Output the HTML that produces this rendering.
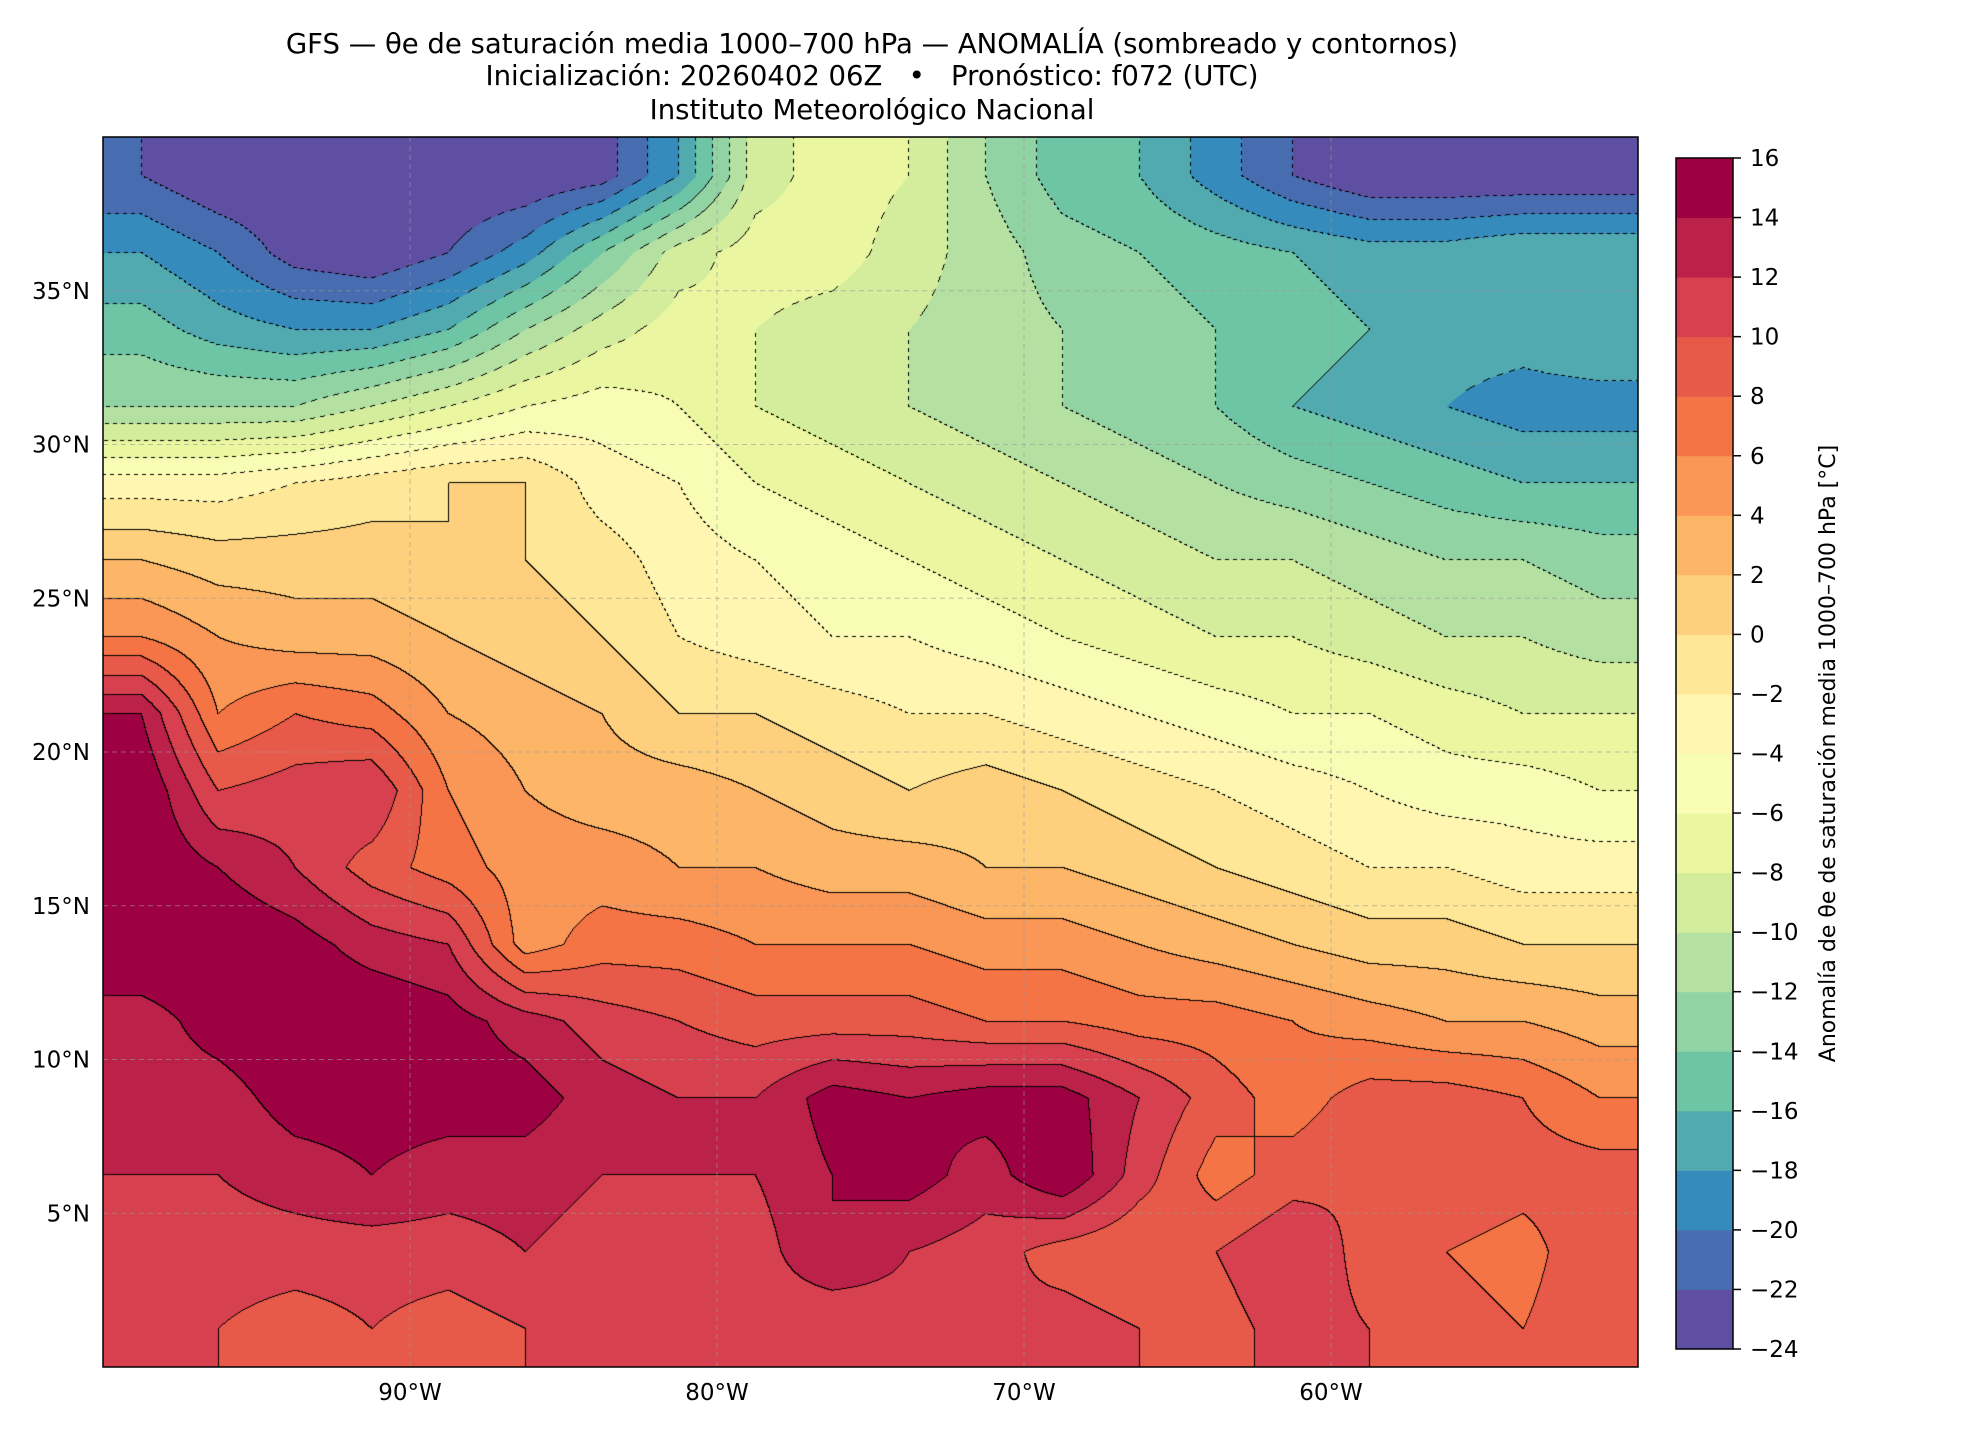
<!DOCTYPE html>
<html><head><meta charset="utf-8">
<style>
body{margin:0;background:#fff;width:1980px;height:1440px;position:relative;overflow:hidden;font-family:"Liberation Sans","DejaVu Sans",sans-serif;}
.t{position:absolute;left:0;width:1744px;text-align:center;font-size:27.5px;color:#000;font-family:"DejaVu Sans","Liberation Sans",sans-serif}
</style></head><body>
<div class="t" style="top:28px">GFS — θe de saturación media 1000–700 hPa — ANOMALÍA (sombreado y contornos)</div>
<div class="t" style="top:60px">Inicialización: 20260402 06Z &nbsp; • &nbsp; Pronóstico: f072 (UTC)</div>
<div class="t" style="top:94px">Instituto Meteorológico Nacional</div>
<canvas id="map" width="1535" height="1230" style="position:absolute;left:103px;top:137px"></canvas>
<svg id="ov" width="1980" height="1440" style="position:absolute;left:0;top:0"></svg>
<script>
const lonCenters=[-98.75,-96.25,-93.75,-91.25,-88.75,-86.25,-83.75,-81.25,-78.75,-76.25,-73.75,-71.25,-68.75,-66.25,-63.75,-61.25,-58.75,-56.25,-53.75,-51.25];
const latCenters=[38.75,36.25,33.75,31.25,28.75,26.25,23.75,21.25,18.75,16.25,13.75,11.25,8.75,6.25,3.75,1.25];
const row3875=[-22,-24,-24,-24,-24,-24,-23,-18,-9,-7,-8,-12,-15,-16,-19,-22,-24,-24,-24,-24];
const row3625=[-18,-20,-23,-24,-22,-19,-14,-9,-7,-7,-9,-11,-13,-14,-15,-16,-17,-17,-16,-16];
const row3375=[-15,-17,-18,-18,-16,-12,-9,-7,-8,-9,-10,-11,-12,-13,-14,-15,-16,-17,-17,-16];
const row3125=[-12,-12,-12,-10,-8,-6,-5,-6,-8,-9,-10,-11,-12,-13,-14,-16,-17,-18,-19,-19];
const row2875=[-3,-3,-2,-1,0,0,-3,-4,-6,-7,-8,-9,-10,-11,-12,-13,-14,-15,-16,-16];
const row2625=[2,1,1,1,0,0,-1,-3,-4,-5,-6,-7,-8,-9,-10,-10,-11,-12,-12,-13];
const row2375=[6,4,3,3,2,1,0,-2,-3,-4,-4,-5,-6,-7,-8,-8,-9,-10,-10,-11];
const row2125=[14,6,8,7,4,3,2,0,0,-1,-2,-2,-3,-4,-5,-6,-6,-7,-8,-8];
const row1875=[16,10,11,12,6,4,3,3,2,1,0,1,0,-1,-2,-3,-4,-5,-5,-6];
const row1625=[16,14,12,9,7,5,5,4,4,3,3,2,2,1,0,-1,-2,-2,-3,-3];
const row1375=[16,16,15,13,12,5,7,7,6,6,6,5,5,4,3,2,1,1,0,0];
const row1125=[13,15,16,16,15,13,11,10,9,9,9,8,8,7,7,6,5,4,4,3];
const row0875=[13,13,15,15,15,15,13,12,12,15,14,15,15,12,9,7,9,9,8,6];
const row0625=[12,12,13,14,13,13,12,12,12,14,15,13,16,11,7,9,10,10,9,9];
const row0375=[10,11,11,11,11,12,11,11,11,14,12,11,9,8,10,12,9,8,7,10];
const row0125=[11,10,9,10,9,10,11,10,11,10,11,10,11,10,9,11,10,9,8,10];
const grid=[row3875,row3625,row3375,row3125,row2875,row2625,row2375,row2125,row1875,row1625,row1375,row1125,row0875,row0625,row0375,row0125];
const levels=[-24,-22,-20,-18,-16,-14,-12,-10,-8,-6,-4,-2,0,2,4,6,8,10,12,14,16];
const cbTicks=["16","14","12","10","8","6","4","2","0","−2","−4","−6","−8","−10","−12","−14","−16","−18","−20","−22","−24"];
const latTicks=[35,30,25,20,15,10,5];
const lonTicks=[-90,-80,-70,-60];

const spec=['#9e0142','#d53e4f','#f46d43','#fdae61','#fee08b','#ffffbf','#e6f598','#abdda4','#66c2a5','#3288bd','#5e4fa2'];
function hex(h){return [parseInt(h.slice(1,3),16),parseInt(h.slice(3,5),16),parseInt(h.slice(5,7),16)];}
function specR(t){const s=(1-t)*10;const i=Math.min(9,Math.floor(s));const f=s-i;const a=hex(spec[i]),b=hex(spec[i+1]);return a.map((v,k)=>Math.round(v+(b[k]-v)*f));}
const nb=levels.length-1;
const bandCols=[];for(let k=0;k<nb;k++)bandCols.push(specR(k/(nb-1)));

const W=1535,H=1230,X0=103,Y0=137;
const xOf=lon=>X0+(lon+100)/50*W, yOf=lat=>Y0+(40-lat)/40*H;
function val(lon,lat){
  let fi=(lon-lonCenters[0])/2.5, fj=(latCenters[0]-lat)/2.5;
  fi=Math.max(0,Math.min(lonCenters.length-1.0001,fi));fj=Math.max(0,Math.min(latCenters.length-1.0001,fj));
  const i=Math.floor(fi),j=Math.floor(fj),a=fi-i,b=fj-j;
  return grid[j][i]*(1-a)*(1-b)+grid[j][i+1]*a*(1-b)+grid[j+1][i]*(1-a)*b+grid[j+1][i+1]*a*b;
}
const cv=document.getElementById('map'),ctx=cv.getContext('2d');
const img=ctx.createImageData(W,H);const band=new Int8Array(W*H);
for(let y=0;y<H;y++){const lat=40-y/H*40;for(let x=0;x<W;x++){const lon=-100+x/W*50;const v=val(lon,lat);let k=Math.floor((v-levels[0])/2);k=Math.max(0,Math.min(nb-1,k));band[y*W+x]=k;}}
for(let y=0;y<H;y++)for(let x=0;x<W;x++){const p=y*W+x;let c=bandCols[band[p]];
  const k=band[p];let edge=false,lv=0;
  if(x<W-1&&band[p+1]!==k){edge=true;lv=Math.max(k,band[p+1]);}
  if(y<H-1&&band[p+W]!==k){edge=true;lv=Math.max(k,band[p+W]);}
  if(edge){const neg=levels[lv]<0; if(!neg||((x+y)%8)<4)c=[0,0,0];}
  img.data[p*4]=c[0];img.data[p*4+1]=c[1];img.data[p*4+2]=c[2];img.data[p*4+3]=255;}
ctx.putImageData(img,0,0);

const NS='http://www.w3.org/2000/svg',ov=document.getElementById('ov');
function el(t,a,txt){const e=document.createElementNS(NS,t);for(const k in a)e.setAttribute(k,a[k]);if(txt!==undefined)e.textContent=txt;ov.appendChild(e);return e;}
latTicks.forEach(l=>{const y=yOf(l);
  let g=el('line',{x1:X0,x2:X0+W,y1:y,y2:y,stroke:'#999',"stroke-width":1,"stroke-dasharray":"5,4",opacity:0.6});
  
  let t=el('text',{x:X0-13,y:y+8,"text-anchor":"end","font-size":23,"font-family":"DejaVu Sans, Liberation Sans, sans-serif"},l+'°N');
  });
lonTicks.forEach(l=>{const x=xOf(l);
  let g=el('line',{x1:x,x2:x,y1:Y0,y2:Y0+H,stroke:'#999',"stroke-width":1,"stroke-dasharray":"5,4",opacity:0.6});
  
  let t=el('text',{x:x,y:Y0+H+33,"text-anchor":"middle","font-size":23,"font-family":"DejaVu Sans, Liberation Sans, sans-serif"},(-l)+'°W');
  });
let fr=el('rect',{x:X0,y:Y0,width:W,height:H,fill:'none',stroke:'#000',"stroke-width":1.5});

// colorbar
const CX=1676,CW=57,CT=158,CB=1349,bh=(CB-CT)/nb;
for(let k=0;k<nb;k++){const c=bandCols[k];
  let r=el('rect',{x:CX,y:CB-(k+1)*bh,width:CW,height:bh+0.5,fill:`rgb(${c[0]},${c[1]},${c[2]})`});
  }
let cf=el('rect',{x:CX,y:CT,width:CW,height:CB-CT,fill:'none',stroke:'#000',"stroke-width":1.5});

cbTicks.forEach((s,i)=>{const y=CT+i*bh;
  el('line',{x1:CX+CW,x2:CX+CW+8,y1:y,y2:y,stroke:'#000',"stroke-width":1.5});
  let t=el('text',{x:CX+CW+17,y:y+8,"font-size":23,"font-family":"DejaVu Sans, Liberation Sans, sans-serif"},s);
  });
let cl=el('text',{x:0,y:0,transform:`translate(1835,${(CT+CB)/2}) rotate(-90)`,"text-anchor":"middle","font-size":22,"font-family":"DejaVu Sans, Liberation Sans, sans-serif"},'Anomalía de θe de saturación media 1000–700 hPa [°C]');

</script>
</body></html>
